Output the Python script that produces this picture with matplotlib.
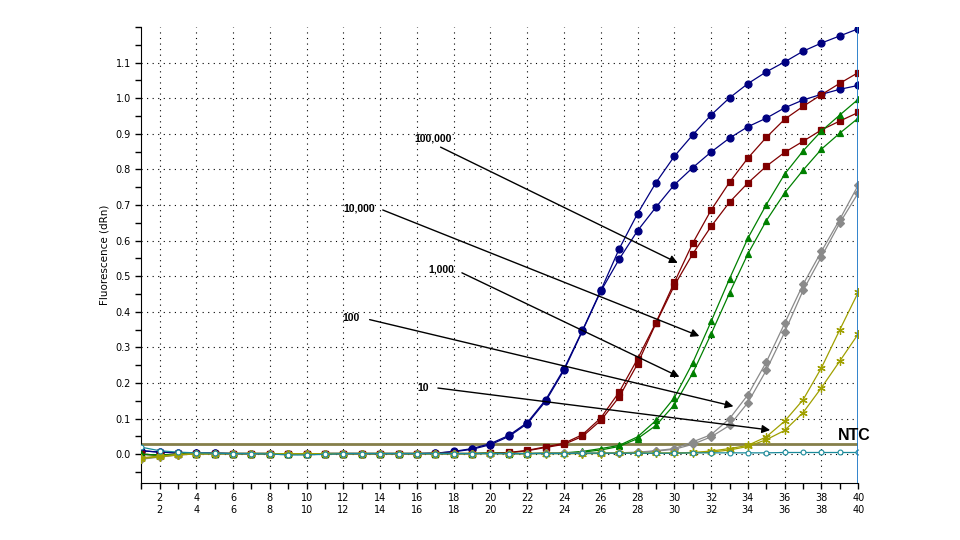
import matplotlib.pyplot as plt
from matplotlib.ticker import MultipleLocator
import numpy as np

# Cykle 1..40
cycles = list(range(1, 41))

base17 = [0.010, 0.006, 0.004, 0.003, 0.003, 0.002, 0.002, 0.002, 0.001, 0.001,
          0.002, 0.002, 0.002, 0.002, 0.002, 0.002, 0.003]
base20 = [0.000, -0.002, 0.000, 0.002, 0.002, 0.002, 0.002, 0.002, 0.001, 0.001,
          0.002, 0.002, 0.002, 0.002, 0.002, 0.002, 0.002, 0.002, 0.002, 0.003]

# 100,000 kopii
blue_a = base17 + [0.008, 0.016, 0.030, 0.053, 0.089, 0.153, 0.240, 0.348, 0.460, 0.577,
                   0.676, 0.763, 0.837, 0.897, 0.953, 1.001, 1.041, 1.074, 1.102, 1.132,
                   1.155, 1.175, 1.195]
blue_b = base17 + [0.007, 0.014, 0.027, 0.050, 0.086, 0.149, 0.236, 0.346, 0.458, 0.548,
                   0.628, 0.694, 0.757, 0.805, 0.849, 0.888, 0.920, 0.944, 0.973, 0.995,
                   1.011, 1.025, 1.036]
# 10,000
red_a = base20 + [0.005, 0.011, 0.021, 0.031, 0.055, 0.102, 0.175, 0.268, 0.370, 0.483,
                  0.593, 0.686, 0.764, 0.832, 0.890, 0.941, 0.977, 1.010, 1.042, 1.072]
red_b = base20 + [0.004, 0.010, 0.019, 0.028, 0.050, 0.095, 0.161, 0.254, 0.368, 0.474,
                  0.563, 0.640, 0.708, 0.762, 0.809, 0.848, 0.879, 0.911, 0.936, 0.960]
# 1,000
green_a = base20 + [0.002, 0.002, 0.003, 0.004, 0.008, 0.016, 0.025, 0.049, 0.095, 0.159,
                    0.257, 0.373, 0.493, 0.607, 0.701, 0.787, 0.852, 0.908, 0.953, 0.997]
green_b = base20 + [0.002, 0.002, 0.003, 0.003, 0.006, 0.012, 0.022, 0.044, 0.081, 0.139,
                    0.228, 0.338, 0.453, 0.563, 0.656, 0.734, 0.798, 0.857, 0.902, 0.944]
# 100
gray_a = [-0.014, -0.008, -0.002, 0.001, 0.002, 0.002, 0.002, 0.002, 0.001, 0.001,
          0.002, 0.002, 0.002, 0.002, 0.002, 0.002, 0.002, 0.002, 0.002, 0.002,
          0.002, 0.002, 0.003, 0.003, 0.003, 0.003, 0.004, 0.006, 0.010, 0.016,
          0.035, 0.055, 0.100, 0.167, 0.259, 0.368, 0.477, 0.570, 0.660, 0.756]
gray_b = [-0.012, -0.006, -0.001, 0.001, 0.002, 0.002, 0.002, 0.002, 0.001, 0.001,
          0.002, 0.002, 0.002, 0.002, 0.002, 0.002, 0.002, 0.002, 0.002, 0.002,
          0.002, 0.002, 0.003, 0.003, 0.003, 0.003, 0.004, 0.005, 0.009, 0.014,
          0.028, 0.049, 0.081, 0.145, 0.236, 0.343, 0.460, 0.555, 0.650, 0.734]
# 10
olive_a = [-0.012, -0.007, -0.002, 0.001, 0.002, 0.002, 0.002, 0.002, 0.001, 0.001,
           0.002, 0.002, 0.002, 0.002, 0.002, 0.002, 0.002, 0.002, 0.002, 0.002,
           0.002, 0.002, 0.002, 0.002, 0.002, 0.003, 0.003, 0.003, 0.003, 0.004,
           0.005, 0.009, 0.016, 0.025, 0.049, 0.093, 0.153, 0.243, 0.350, 0.455]
olive_b = [-0.010, -0.005, -0.001, 0.001, 0.002, 0.002, 0.002, 0.002, 0.001, 0.001,
           0.002, 0.002, 0.002, 0.002, 0.002, 0.002, 0.002, 0.002, 0.002, 0.002,
           0.002, 0.002, 0.002, 0.002, 0.002, 0.002, 0.003, 0.003, 0.003, 0.003,
           0.004, 0.006, 0.012, 0.022, 0.041, 0.067, 0.117, 0.187, 0.262, 0.338]
# NTC
ntc = [0.020, 0.010, 0.006, 0.004, 0.003, 0.002, 0.002, 0.001, -0.002, -0.002,
       0.000, 0.002, 0.002, 0.002, 0.002, 0.002, 0.002, 0.002, 0.002, 0.002,
       0.002, 0.002, 0.002, 0.002, 0.003, 0.003, 0.003, 0.003, 0.003, 0.003,
       0.004, 0.004, 0.004, 0.004, 0.004, 0.005, 0.005, 0.005, 0.005, 0.005]

threshold = 0.030

# etykiety strzałek: (tekst, pozycja tekstu, początek linii, grot)
arrows = [
    ("100,000", (16.88, 0.888), (17.15, 0.866), (30.32, 0.534)),
    ("10,000", (12.86, 0.689), (14.00, 0.689), (31.50, 0.329)),
    ("1,000", (17.32, 0.520), (18.31, 0.513), (30.41, 0.214)),
    ("100", (12.42, 0.383), (13.28, 0.380), (33.36, 0.133)),
    ("10", (16.34, 0.187), (16.99, 0.187), (35.36, 0.067)),
]

lab_font = ["Liberation Sans", "DejaVu Sans"]

fig = plt.figure(figsize=(9.6, 5.4), dpi=100)
ax = fig.add_axes([0.147, 0.106, 0.747, 0.844])

ax.axhline(threshold, color="#857f4a", lw=2, zorder=2)

series = [
    (blue_a, "#000080", "o", 5),
    (blue_b, "#000080", "o", 5),
    (red_a, "#800000", "s", 5),
    (red_b, "#800000", "s", 5),
    (green_a, "#008000", "^", 5),
    (green_b, "#008000", "^", 5),
    (gray_a, "#8a8a8a", "D", 4.5),
    (gray_b, "#8a8a8a", "D", 4.5),
    (olive_a, "#a0a000", (6, 2, 0), 6),
    (olive_b, "#a0a000", (6, 2, 0), 6),
]
for vals, col, mk, ms in series:
    ax.plot(cycles, vals, color=col, lw=0.9, marker=mk, markersize=ms,
            markeredgewidth=0.9, zorder=3)
ax.plot(cycles, ntc, color="#1a8a9a", lw=0.9, marker="o", markersize=3.5,
        markerfacecolor="white", markeredgewidth=0.8, zorder=4)

ax.axvline(40, color="#1e78c8", lw=2, zorder=5)

for label, tpos, start, tip in arrows:
    ax.text(tpos[0], tpos[1], label, ha="center", va="center", fontsize=7.5,
            fontweight="bold", family=lab_font, zorder=6)
    ax.annotate("", xy=tip, xytext=start,
                arrowprops=dict(arrowstyle="-|>", color="black", lw=1,
                                mutation_scale=12), zorder=6)

ax.text(39.78, 0.052, "NTC", ha="center", va="center", fontsize=11.5,
        fontweight="bold", family=lab_font, zorder=6)

ax.set_xlim(1, 40)
ax.set_ylim(-0.08, 1.2)
ax.xaxis.set_minor_locator(MultipleLocator(1))
xt = list(range(2, 41, 2))
ax.set_xticks(xt)
ax.set_xticklabels([f"{t}\n{t}" for t in xt], fontsize=7)
yt = [round(v * 0.1, 1) for v in range(0, 12)]
ax.set_yticks(yt)
ax.set_yticklabels([f"{v:.1f}" for v in yt], fontsize=7)
ax.yaxis.set_minor_locator(MultipleLocator(0.05))
ax.tick_params(which="both", direction="out", length=4, width=1)
ax.grid(True, which="major", color="black", linestyle=(0, (1, 4)), lw=0.8)

for s in ["top", "right"]:
    ax.spines[s].set_visible(False)
ax.set_ylabel("Fluorescence (dRn)", fontsize=7.5)

plt.savefig("out.png", dpi=100)
